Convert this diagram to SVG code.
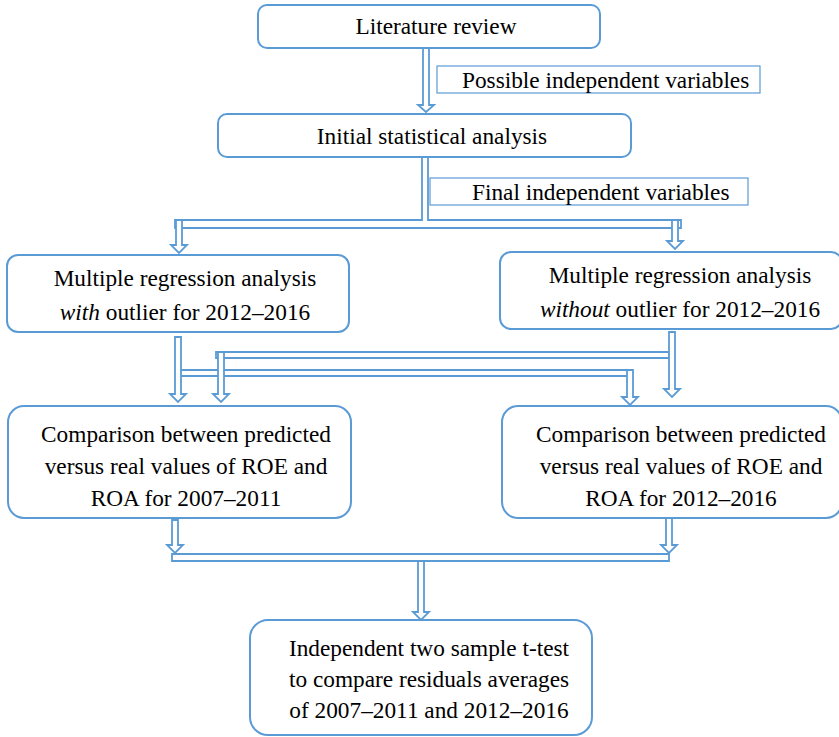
<svg xmlns="http://www.w3.org/2000/svg" width="839" height="737" viewBox="0 0 839 737">
<style>
.box{fill:#fff;stroke:#5B9BD5;stroke-width:2}
.lbl{fill:#fff;stroke:#5B9BD5;stroke-width:1.2}
.arr{fill:#fff;stroke:#5B9BD5;stroke-width:1.8;stroke-linejoin:miter}
.c{text-anchor:middle}
</style>
<rect width="839" height="737" fill="#fff"/>
<g id="connectors">
<path class="arr" d="M423,48 V105 H418 L426,112 L434,105 H429 V48 Z"/>
<path class="arr" d="M422,157 V220 H175 V228 H681 V220 H428 V157 Z"/>
<path class="arr" d="M176,220 V245 H171 L179,253 L187,245 H182 V220 Z"/>
<path class="arr" d="M672,220 V241 H667 L675,249 L683,241 H678 V220 Z"/>
<path class="arr" d="M216,352 H669 V358 H216 Z"/>
<path class="arr" d="M177,370 H632 V376 H177 Z"/>
<path class="arr" d="M175,337 V394 H170 L178,402 L186,394 H181 V337 Z"/>
<path class="arr" d="M218,352 V394 H213 L221,402 L229,394 H224 V352 Z"/>
<path class="arr" d="M669,332 V389 H664 L672,397 L680,389 H675 V332 Z"/>
<path class="arr" d="M627,370 V397 H622 L630,405 L638,397 H633 V370 Z"/>
<path class="arr" d="M172,554 H669 V561 H172 Z"/>
<path class="arr" d="M172,520 V545 H167 L175,553 L183,545 H178 V520 Z"/>
<path class="arr" d="M666,518 V545 H661 L669,553 L677,545 H672 V518 Z"/>
<path class="arr" d="M418,561 V612 H413 L421,620 L429,612 H424 V561 Z"/>
</g>
<g font-family="'Liberation Serif', 'Times New Roman', serif" font-size="23.3" fill="#000">
<g id="lit">
<rect class="box" x="258" y="5" width="342" height="43" rx="9"/>
<text class="c" x="436" y="34">Literature review</text>
</g>
<g id="lbl1">
<rect class="lbl" x="437" y="66" width="323" height="27"/>
<text x="462" y="88">Possible independent variables</text>
</g>
<g id="initial">
<rect class="box" x="218" y="114" width="413" height="43" rx="9"/>
<text class="c" x="432" y="144">Initial statistical analysis</text>
</g>
<g id="lbl2">
<rect class="lbl" x="430" y="178" width="318" height="27"/>
<text x="472" y="200">Final independent variables</text>
</g>
<g id="mra-with">
<rect class="box" x="7" y="255" width="342" height="77" rx="11"/>
<text class="c" x="185" y="286">Multiple regression analysis</text>
<text class="c" x="185" y="320"><tspan font-style="italic">with</tspan> outlier for 2012–2016</text>
</g>
<g id="mra-without">
<rect class="box" x="500" y="252" width="342" height="77" rx="11"/>
<text class="c" x="680" y="283">Multiple regression analysis</text>
<text class="c" x="680" y="317"><tspan font-style="italic">without</tspan> outlier for 2012–2016</text>
</g>
<g id="cmp-left">
<rect class="box" x="8" y="406" width="343" height="112" rx="16"/>
<text class="c" x="186" y="442">Comparison between predicted</text>
<text class="c" x="186" y="474">versus real values of ROE and</text>
<text class="c" x="186" y="506">ROA for 2007–2011</text>
</g>
<g id="cmp-right">
<rect class="box" x="502" y="406" width="340" height="112" rx="16"/>
<text class="c" x="681" y="442">Comparison between predicted</text>
<text class="c" x="681" y="474">versus real values of ROE and</text>
<text class="c" x="681" y="506">ROA for 2012–2016</text>
</g>
<g id="ttest">
<rect class="box" x="250" y="620" width="342" height="115" rx="18"/>
<text class="c" x="429" y="656">Independent two sample t-test</text>
<text class="c" x="429" y="687">to compare residuals averages</text>
<text class="c" x="429" y="718">of 2007–2011 and 2012–2016</text>
</g>
</g>
</svg>
